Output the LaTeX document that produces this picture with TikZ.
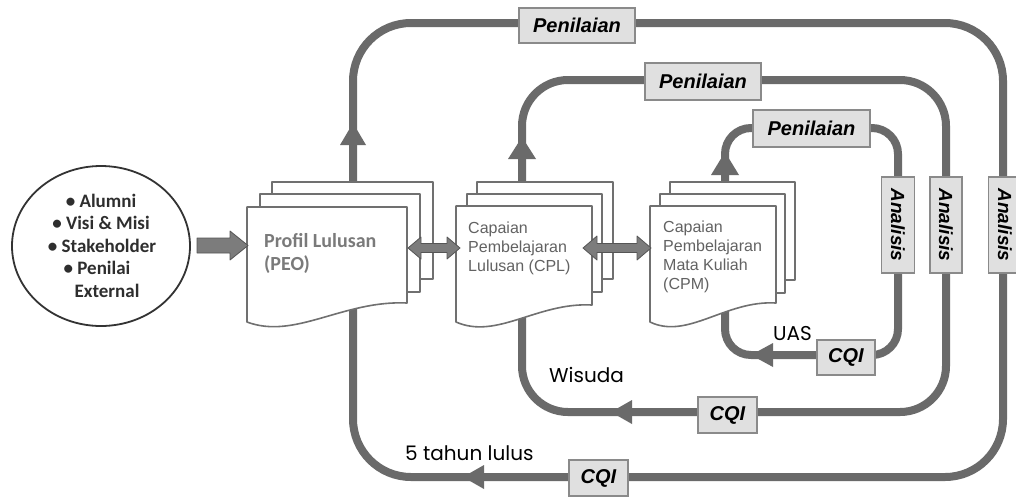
\documentclass[tikz,border=0pt]{standalone}
\usepackage{fontspec}
\setmainfont{Liberation Sans}
\newfontfamily\carl{Carlito}
\newfontfamily\popp{Poppins}
\usetikzlibrary{shapes.geometric}
\definecolor{loopc}{HTML}{6A6A6A}
\definecolor{boxf}{HTML}{E0E0E0}
\definecolor{boxd}{HTML}{8A8A8A}
\definecolor{docd}{HTML}{707070}
\definecolor{doct}{HTML}{626262}
\definecolor{peot}{HTML}{7A7A7A}
\definecolor{arrf}{HTML}{7C7C7C}
\definecolor{arrd}{HTML}{555555}
\definecolor{srct}{HTML}{2E2E2E}
\newcommand\backpage[4]{\path[page] (#1,#2) rectangle (#3,#4);}
\newcommand\frontpage[5]{\path[page] (#1,#2) -- (#3,#2) -- (#3,#4) .. controls ({#3-0.4*(#3-#1)},{#4-3}) and ({#1+0.3*(#3-#1)},{#5+18}) .. (#1,#5) -- cycle;}
\begin{document}
\begin{tikzpicture}[x=1pt,y=-1pt,
 loopline/.style={draw=loopc, line width=8pt, line join=round},
 lbl/.style={draw=boxd, fill=boxf, line width=1.2pt, inner sep=0pt, font=\fontsize{20}{24}\selectfont\bfseries\itshape},
 vlbl/.style={lbl, rotate=-90, font=\fontsize{19}{22}\selectfont\bfseries\itshape},
 page/.style={draw=docd, fill=white, line width=1.6pt, line join=round},
 doctext/.style={text=doct, inner sep=0pt, anchor=base west, font=\fontsize{16}{19}\selectfont},
 peotext/.style={text=peot, inner sep=0pt, anchor=base west, font=\carl\bfseries\fontsize{20}{24}\selectfont},
 srctext/.style={text=srct, inner sep=0pt, anchor=base, font=\carl\bfseries\fontsize{19}{22}\selectfont},
 freetext/.style={inner sep=0pt, anchor=base west, font=\popp\fontsize{20}{24}\selectfont},
 blockarr/.style={fill=arrf, draw=arrd, line width=0.8pt, line join=round},
 head/.style={fill=loopc}]
\useasboundingbox[fill=white] (0,0) rectangle (1016,498);

% ---- feedback loops
\draw[loopline, rounded corners=58] (353,300) -- (353,23) -- (1003,23) -- (1003,477) -- (353,477) -- cycle;
\draw[loopline, rounded corners=46] (522,300) -- (522,80) -- (946,80) -- (946,412) -- (522,412) -- cycle;
\draw[loopline, rounded corners=26] (725,250) -- (725,128) -- (898,128) -- (898,355) -- (725,355) -- cycle;

% arrowheads on loops
\fill[head] (340,145) -- (353,123) -- (366,145) -- cycle;
\fill[head] (484,465) -- (463,477) -- (484,489) -- cycle;
\fill[head] (508,159) -- (522,137) -- (536,159) -- cycle;
\fill[head] (632,400) -- (611,412) -- (632,424) -- cycle;
\fill[head] (711,175) -- (725,152) -- (739,175) -- cycle;
\fill[head] (773,343) -- (751,355) -- (773,367) -- cycle;

% ---- source ellipse
\node[ellipse, draw=black!80, line width=1.8pt, fill=white, minimum width=178, minimum height=160, inner sep=0pt] (src) at (101,246) {};
\foreach \t/\yy/\dx [count=\i] in {{• Alumni}/207/0, {• Visi \& Misi}/229.5/0, {• Stakeholder}/252/1, {• Penilai}/274.5/-4, {External}/297/6}
  \node[srctext] (src\i) at ({101+\dx},\yy) {\t};

% ---- documents
% PEO
\backpage{272}{182}{433}{279}
\backpage{260}{194}{420}{292}
\frontpage{247}{207}{407}{303}{322}
\node[peotext] (peo1) at (264,247) {Profil Lulusan};
\node[peotext] (peo2) at (264,270) {(PEO)};
% CPL
\backpage{477}{182}{613}{279}
\backpage{467}{194}{602}{292}
\frontpage{456}{206}{592}{305}{322}
\foreach \t [count=\i] in {Capaian, Pembelajaran, Lulusan (CPL)}
  \node[doctext] (cpl\i) at (468,{233+19*(\i-1)}) {\t};
% CPM
\backpage{670}{182}{795}{280}
\backpage{660}{194}{785}{293}
\frontpage{650}{206}{776}{303}{322}
\foreach \t [count=\i] in {Capaian, Pembelajaran, Mata Kuliah, (CPM)}
  \node[doctext] (cpm\i) at (663,{232+19*(\i-1)}) {\t};

% ---- block arrows
\path[blockarr] (197,238) -- (230,238) -- (230,231) -- (248,245.5) -- (230,260) -- (230,253) -- (197,253) -- cycle;
\path[blockarr] (408,248) -- (421,237) -- (421,243.5) -- (447,243.5) -- (447,237) -- (460,248) -- (447,259) -- (447,252.5) -- (421,252.5) -- (421,259) -- cycle;
\path[blockarr] (583,248) -- (597,236) -- (597,243.5) -- (637,243.5) -- (637,236) -- (651,248) -- (637,260) -- (637,252.5) -- (597,252.5) -- (597,260) -- cycle;

% ---- label boxes
\node[lbl, minimum width=116, minimum height=35] (pen1) at (577,25.5) {Penilaian};
\node[lbl, minimum width=116, minimum height=37] (pen2) at (703,81.5) {Penilaian};
\node[lbl, minimum width=117, minimum height=37] (pen3) at (811.5,128.5) {Penilaian};
\node[vlbl, minimum width=96, minimum height=33] (ana3) at (898,225) {Analisis};
\node[vlbl, minimum width=96, minimum height=32] (ana2) at (946,225) {Analisis};
\node[vlbl, minimum width=96, minimum height=33] (ana1) at (1005,225) {Analisis};
\node[lbl, minimum width=58, minimum height=35] (cqi3) at (846,357.5) {CQI};
\node[lbl, minimum width=59, minimum height=36] (cqi2) at (727.5,415) {CQI};
\node[lbl, minimum width=59, minimum height=36] (cqi1) at (598.5,478) {CQI};

% ---- free labels
\node[freetext] (uas) at (773,340) {UAS};
\node[freetext] (wis) at (549,382) {Wisuda};
\node[freetext] (thn) at (405,460) {5 tahun lulus};
\end{tikzpicture}
\end{document}
